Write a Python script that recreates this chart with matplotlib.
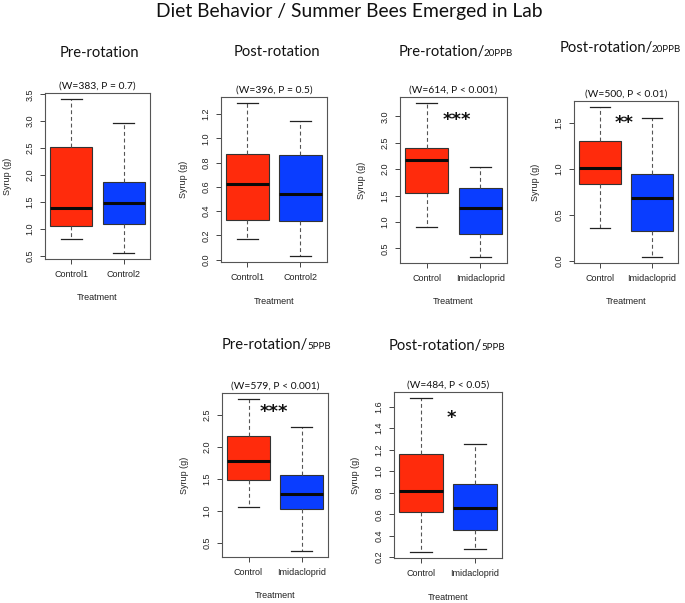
import matplotlib
matplotlib.use("Agg")
import matplotlib.pyplot as plt

# ---------------- data (five-number summaries: low whisker, Q1, median, Q3, high whisker)
cats_ctrl12 = ["Control1", "Control2"]
cats_imid = ["Control", "Imidacloprid"]

pre_c1 = [0.80, 1.05, 1.38, 2.52, 3.41]
pre_c2 = [0.55, 1.09, 1.47, 1.87, 2.96]

post_c1 = [0.17, 0.33, 0.62, 0.87, 1.29]
post_c2 = [0.03, 0.32, 0.54, 0.86, 1.14]

pre20_ctrl = [0.90, 1.55, 2.17, 2.41, 3.25]
pre20_imid = [0.34, 0.77, 1.26, 1.65, 2.05]

post20_ctrl = [0.35, 0.83, 1.01, 1.30, 1.67]
post20_imid = [0.04, 0.32, 0.68, 0.94, 1.55]

pre5_ctrl = [1.07, 1.49, 1.77, 2.17, 2.74]
pre5_imid = [0.38, 1.03, 1.26, 1.56, 2.31]

post5_ctrl = [0.25, 0.62, 0.82, 1.16, 1.68]
post5_imid = [0.28, 0.45, 0.66, 0.88, 1.25]

yticks_pre = [0.5, 1.0, 1.5, 2.0, 2.5, 3.0, 3.5]
yticks_post = [0.0, 0.2, 0.4, 0.6, 0.8, 1.0, 1.2]
yticks_pre20 = [0.5, 1.0, 1.5, 2.0, 2.5, 3.0]
yticks_post20 = [0.0, 0.5, 1.0, 1.5]
yticks_pre5 = [0.5, 1.0, 1.5, 2.0, 2.5]
yticks_post5 = [0.2, 0.4, 0.6, 0.8, 1.0, 1.2, 1.4, 1.6]

titles_main = ["Pre-rotation", "Post-rotation", "Pre-rotation/", "Post-rotation/",
               "Pre-rotation/", "Post-rotation/"]
titles_small = ["", "", "20PPB", "20PPB", "5PPB", "5PPB"]
subtitles = ["(W=383, P = 0.7)", "(W=396, P = 0.5)", "(W=614, P < 0.001)",
             "(W=500, P < 0.01)", "(W=579, P < 0.001)", "(W=484, P < 0.05)"]
stars = ["", "", "***", "**", "***", "*"]
suptitle = "Diet Behavior / Summer Bees Emerged in Lab"
ylab = "Syrup (g)"
xlab = "Treatment"

# ---------------- layout (pixels)
W, H = 685, 603
DPI = 100
panels = [
    # data, categories, yticks, axes box (x0, y0, x1, y1), title (center x, baseline y), star pos
    ((pre_c1, pre_c2), cats_ctrl12, yticks_pre, (45, 93, 150, 259), (99, 57), None),
    ((post_c1, post_c2), cats_ctrl12, yticks_post, (221, 97, 327, 262), (277, 56), None),
    ((pre20_ctrl, pre20_imid), cats_imid, yticks_pre20, (400, 97, 507, 263), (456, 56), (0.533, 0.86)),
    ((post20_ctrl, post20_imid), cats_imid, yticks_post20, (574, 101, 678, 263), (620, 52), (0.48, 0.865)),
    ((pre5_ctrl, pre5_imid), cats_imid, yticks_pre5, (222, 393, 328, 557), (276.5, 349), (0.486, 0.885)),
    ((post5_ctrl, post5_imid), cats_imid, yticks_post5, (394, 392, 502, 558), (447, 350), (0.528, 0.845)),
]

RED = "#FF2B0C"
BLUE = "#0A3DFF"
EDGE = "#333333"
TITLE_FONT = "Lato"
R_FONT = "Liberation Sans"

fig = plt.figure(figsize=(W / DPI, H / DPI), dpi=DPI)
fig.patch.set_facecolor("white")

fig.text(349 / W, 1 - 17 / H, suptitle, ha="center", va="baseline",
         fontsize=13.9, family=TITLE_FONT, color="#111111")

title_parts = []
for i, (vals, cats, yt, box, tpos, spos) in enumerate(panels):
    x0, y0, x1, y1 = box
    ax = fig.add_axes([x0 / W, 1 - y1 / H, (x1 - x0) / W, (y1 - y0) / H])
    stats = []
    for v, c in zip(vals, cats):
        stats.append(dict(whislo=v[0], q1=v[1], med=v[2], q3=v[3], whishi=v[4],
                          fliers=[], label=c))
    bp = ax.bxp(stats, positions=[1, 2], widths=0.8, patch_artist=True,
                showfliers=False,
                boxprops=dict(edgecolor=EDGE, linewidth=0.8),
                whiskerprops=dict(color="#555555", linewidth=0.8, linestyle=(0, (3.5, 2.5))),
                capprops=dict(color="#222222", linewidth=0.9),
                medianprops=dict(color="#0a0a0a", linewidth=2.2, solid_capstyle="butt"),
                capwidths=0.4)
    for patch, col in zip(bp["boxes"], [RED, BLUE]):
        patch.set_facecolor(col)
    lo = min(v[0] for v in vals)
    hi = max(v[4] for v in vals)
    pad = (hi - lo) * 0.04
    ax.set_ylim(lo - pad, hi + pad)
    ax.set_xlim(0.5, 2.5)
    ax.set_yticks(yt)
    ax.set_yticklabels([f"{t:.1f}" for t in yt], rotation=90, va="center",
                       family=R_FONT, fontsize=6.5, color="#222222")
    ax.set_xticks([1, 2])
    ax.set_xticklabels(cats, family=R_FONT, fontsize=6.5, color="#222222")
    ax.tick_params(axis="both", length=3.5, width=0.7, color="#444444", pad=4.2)
    for sp in ax.spines.values():
        sp.set_color("#555555")
        sp.set_linewidth(0.8)
    wpx = x1 - x0
    hpx = y1 - y0
    ax.set_ylabel(ylab, family=R_FONT, fontsize=6.5, color="#222222")
    ax.yaxis.label.set_va("center")
    ax.yaxis.set_label_coords(-38 / wpx, 0.5)
    ax.set_xlabel(xlab, family=R_FONT, fontsize=6.5, color="#222222")
    ax.xaxis.label.set_va("center")
    ax.xaxis.set_label_coords(0.5, -39 / hpx)
    ax.set_title(subtitles[i], family=TITLE_FONT, fontsize=7.4, pad=3, color="#111111")
    if spos is not None:
        ax.text(spos[0], spos[1], stars[i], transform=ax.transAxes, ha="center",
                va="center", fontsize=13, fontweight="bold", family="DejaVu Sans",
                color="#111111")
    cx, by = tpos
    t1 = fig.text(0, 1 - by / H, titles_main[i], ha="left", va="baseline",
                  fontsize=10.6, family=TITLE_FONT, color="#111111")
    t2 = None
    if titles_small[i]:
        t2 = fig.text(0, 1 - by / H, titles_small[i], ha="left", va="baseline",
                      fontsize=7.0, family=TITLE_FONT, color="#111111")
    title_parts.append((cx, by, t1, t2))

fig.canvas.draw()
renderer = fig.canvas.get_renderer()
for cx, by, t1, t2 in title_parts:
    w1 = t1.get_window_extent(renderer).width
    w2 = t2.get_window_extent(renderer).width - 1 if t2 is not None else 0
    left = cx - (w1 + w2) / 2
    t1.set_x(left / W)
    if t2 is not None:
        t2.set_x((left + w1 - 1) / W)

fig.savefig("out.png", dpi=DPI, facecolor="white")
